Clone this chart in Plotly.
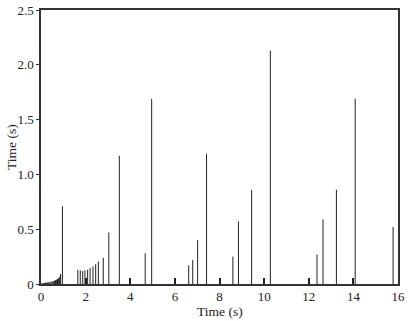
import plotly.graph_objects as go

# Spike positions (s) and heights (s)
spike_x = [0.05, 0.1, 0.15, 0.2, 0.25, 0.3, 0.35, 0.4, 0.45, 0.5, 0.55, 0.6, 0.65, 0.7,
           0.74, 0.78, 0.82, 0.86, 0.88, 0.96,
           1.65, 1.76, 1.87, 1.97, 2.09, 2.20, 2.33, 2.45, 2.57, 2.79,
           3.04, 3.51, 4.67, 4.96,
           6.62, 6.80, 7.02, 7.42,
           8.60, 8.85, 9.44, 10.28,
           12.37, 12.64, 13.24, 14.08, 15.78]
spike_h = [0.008, 0.009, 0.010, 0.011, 0.013, 0.015, 0.017, 0.019, 0.021, 0.024, 0.027, 0.031, 0.035, 0.040,
           0.045, 0.052, 0.062, 0.075, 0.092, 0.71,
           0.13, 0.125, 0.12, 0.125, 0.13, 0.145, 0.16, 0.18, 0.205, 0.24,
           0.47, 1.17, 0.28, 1.69,
           0.17, 0.22, 0.40, 1.19,
           0.25, 0.57, 0.86, 2.13,
           0.27, 0.59, 0.86, 1.69, 0.52]

x_ticks = [0, 2, 4, 6, 8, 10, 12, 14, 16]
y_ticks = [0, 0.5, 1.0, 1.5, 2.0, 2.5]
y_tick_text = ["0", "0.5", "1.0", "1.5", "2.0", "2.5"]
x_title = "Time (s)"
y_title = "Time (s)"

xs, ys = [], []
for x, h in zip(spike_x, spike_h):
    xs += [x, x, None]
    ys += [0, h, None]

fig = go.Figure()
fig.add_trace(go.Scatter(x=xs, y=ys, mode="lines",
                         line=dict(color="#222222", width=1),
                         hoverinfo="skip", showlegend=False))

tick_font = dict(family="Liberation Serif", size=13, color="#222")
title_font = dict(family="Liberation Serif", size=13.5, color="#222")
fig.update_layout(
    width=408, height=321,
    margin=dict(l=41, r=10, t=10, b=37, autoexpand=False),
    paper_bgcolor="white", plot_bgcolor="white",
    font=tick_font,
    showlegend=False,
    xaxis=dict(range=[0, 16], tickvals=x_ticks, ticktext=[str(v) for v in x_ticks],
               showgrid=False, zeroline=False, showline=True, linecolor="#333",
               linewidth=1.5, mirror=True, ticks="inside", ticklen=6, tickcolor="#222",
               tickwidth=1.5, automargin=False, tickfont=tick_font),
    yaxis=dict(range=[0, 2.5], tickvals=y_ticks, ticktext=y_tick_text,
               showgrid=False, zeroline=False, showline=True, linecolor="#333",
               linewidth=1.5, mirror=True, ticks="outside", ticklen=3, tickcolor="#333",
               automargin=False, tickfont=tick_font),
    annotations=[
        dict(text=x_title, xref="paper", yref="paper", x=0.5, y=0, yshift=-27,
             showarrow=False, font=title_font, xanchor="center", yanchor="middle"),
        dict(text=y_title, xref="paper", yref="paper", x=0, y=0.5, xshift=-30,
             showarrow=False, font=title_font, textangle=-90, xanchor="center", yanchor="middle"),
    ],
)
fig.write_html("out.html", config={"displayModeBar": False},
               post_script="document.body.style.margin='0';")
